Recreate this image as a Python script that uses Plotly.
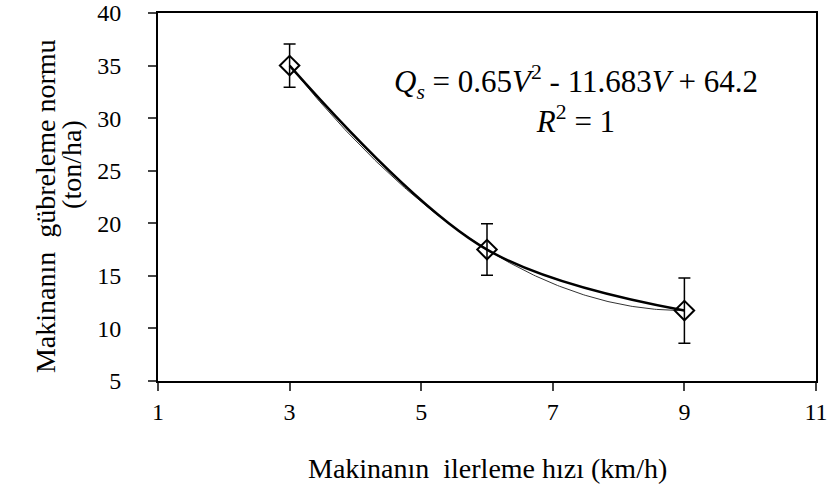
import numpy as np
import plotly.graph_objects as go

speed = [3, 6, 9]
norm = [35.0, 17.5, 11.7]
err = [2.05, 2.45, 3.1]

x_ticks = [1, 3, 5, 7, 9, 11]
y_ticks = [5, 10, 15, 20, 25, 30, 35, 40]

coef = np.polyfit(speed, norm, 2)
xt = np.linspace(min(speed), max(speed), 200)
yt = np.polyval(coef, xt)

FONT = "Liberation Serif"

fig = go.Figure()
fig.add_trace(go.Scatter(x=xt, y=yt, mode="lines",
                         line=dict(color="#333", width=1), hoverinfo="skip"))
fig.add_trace(go.Scatter(
    x=speed, y=norm, mode="lines+markers",
    line=dict(color="black", width=2.5, shape="spline", smoothing=1),
    marker=dict(symbol="diamond-open", size=15, color="black", line=dict(width=2, color="black")),
    error_y=dict(type="data", array=err, visible=True, color="black", thickness=1.5, width=6),
))

fig.add_annotation(
    x=0.636, y=0.765, xref="paper", yref="paper", xanchor="center", yanchor="middle",
    text="<i>Q<sub>s</sub></i> = 0.65<i>V</i><sup>2</sup> - 11.683<i>V</i> + 64.2<br><i>R</i><sup>2</sup> = 1",
    showarrow=False, align="center", font=dict(family=FONT, size=31, color="black"),
)
fig.add_annotation(
    x=0.5, y=-0.237, xref="paper", yref="paper", xanchor="center", yanchor="middle",
    text="Makinanın  ilerleme hızı (km/h)", showarrow=False,
    font=dict(family=FONT, size=28, color="black"),
)
fig.add_annotation(
    x=-0.1717, y=0.4755, xref="paper", yref="paper", xanchor="center", yanchor="middle",
    text="Makinanın  gübreleme normu", showarrow=False, textangle=-90,
    font=dict(family=FONT, size=28, color="black"),
)
fig.add_annotation(
    x=-0.1307, y=0.59, xref="paper", yref="paper", xanchor="center", yanchor="middle",
    text="(ton/ha)", showarrow=False, textangle=-90,
    font=dict(family=FONT, size=28, color="black"),
)

fig.update_layout(
    width=835, height=501,
    margin=dict(l=158, r=19, t=13, b=120, autoexpand=False),
    paper_bgcolor="white", plot_bgcolor="white",
    showlegend=False,
    font=dict(family=FONT, size=24, color="black"),
)
fig.update_xaxes(range=[1, 11], tickvals=x_ticks, ticks="outside", ticklen=8, tickwidth=2,
                 showline=True, linewidth=2, linecolor="black", mirror=True, showgrid=False,
                 zeroline=False, automargin=False, ticklabeloverflow="allow",
                 tickfont=dict(family=FONT, size=24, color="black"))
fig.update_yaxes(range=[5, 40], tickvals=y_ticks, ticks="outside", ticklen=8, tickwidth=2,
                 showline=True, linewidth=2, linecolor="black", mirror=True, showgrid=False,
                 zeroline=False, automargin=False, ticklabelstandoff=22, ticklabeloverflow="allow",
                 tickfont=dict(family=FONT, size=24, color="black"))

fig.write_html("out.html", config={"displayModeBar": False},
               post_script="document.body.style.margin='0';")
